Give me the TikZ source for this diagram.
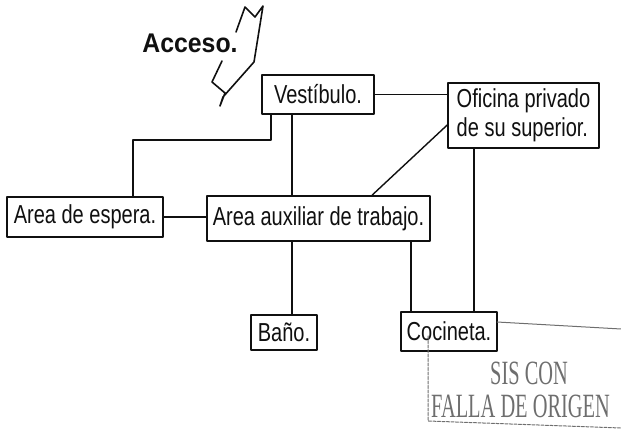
\documentclass[tikz,border=0pt]{standalone}
\usepackage{fontspec}
\usepackage{xcolor}
\usetikzlibrary{calc}
\newfontfamily\boxfont[FakeStretch=0.77]{Liberation Sans}
\newfontfamily\accfont[FakeStretch=0.92]{Liberation Sans}
\newfontfamily\stampfont[FakeStretch=0.6]{Liberation Serif}
\definecolor{inkC}{HTML}{101010}
\definecolor{stampC}{HTML}{6E6E6E}

\begin{document}
\begin{tikzpicture}[
  x=1pt,
  y=-1pt,
  line cap=round,
  line join=round,
  room/.style={draw=inkC, line width=1.5pt, fill=white, inner sep=0pt,
    text=inkC, font=\boxfont\fontsize{26}{29}\selectfont},
  link/.style={draw=inkC, line width=1.4pt}
]

\useasboundingbox (0,0) rectangle (621,435);

% Rooms.
\node[room, minimum width=112pt, minimum height=39pt] (vest) at (318,94.5) {Vestíbulo.};
\node[room, minimum width=151pt, minimum height=65pt, align=left] (ofic) at (523.5,115.5)
  {Oficina privado\\de su superior.};
\node[room, minimum width=156pt, minimum height=40pt] (esp) at (85,217) {Area de espera.};
\node[room, minimum width=223pt, minimum height=45pt] (aux) at (318.5,218.5) {Area auxiliar de trabajo.};
\node[room, minimum width=66pt, minimum height=35pt] (bano) at (284,332.5) {Baño.};
\node[room, minimum width=96pt, minimum height=39pt] (coc) at (449,331.5) {Cocineta.};

% Entrance label and hand-drawn arrow.
\node[text=inkC, font=\accfont\bfseries\fontsize{27}{30}\selectfont] (acceso) at (190,43) {Acceso.};
\draw[inkC, line width=1.6pt]
  (236,32) -- (245,7) -- (255,17) -- (263,6) -- (254,62) -- (223,97) -- (220,106)
  -- (225,93) -- (212,82) -- (222,61);

% Connections.
\coordinate (spine) at (292,0);
\coordinate (elbow) at (133,140);
\draw[link] (vest.east) -- (vest.east -| ofic.west);
\draw[link] (vest.south -| spine) -- (aux.north -| spine);
\draw[link] ([xshift=-47pt]vest.south) |- (elbow) -- (elbow |- esp.north);
\draw[link] (esp.east) -- (esp.east -| aux.west);
\draw[link] ([yshift=-9.5pt]ofic.west) -- ([xshift=53.5pt]aux.north);
\draw[link] ([xshift=-49.5pt]ofic.south) -- ([xshift=-49.5pt]ofic.south |- coc.north);
\draw[link] ([xshift=-38pt]coc.north |- aux.south) -- ([xshift=-38pt]coc.north);
\draw[link] (aux.south -| spine) -- (bano.north -| spine);

% Archive stamp.
\draw[stampC, line width=1pt] (497,322) -- (621,329);
\draw[stampC, line width=1pt, dash pattern=on 3pt off 1.5pt]
  (428,336) -- (428,421) -- (621,428);
\node[text=stampC, anchor=west, inner sep=0pt, font=\stampfont\fontsize{34}{34}\selectfont]
  (tesis) at (490,373) {SIS CON};
\node[text=stampC, anchor=west, inner sep=0pt, font=\stampfont\fontsize{34}{34}\selectfont]
  (origen) at (431,406) {FALLA DE ORIGEN};

\end{tikzpicture}
\end{document}
